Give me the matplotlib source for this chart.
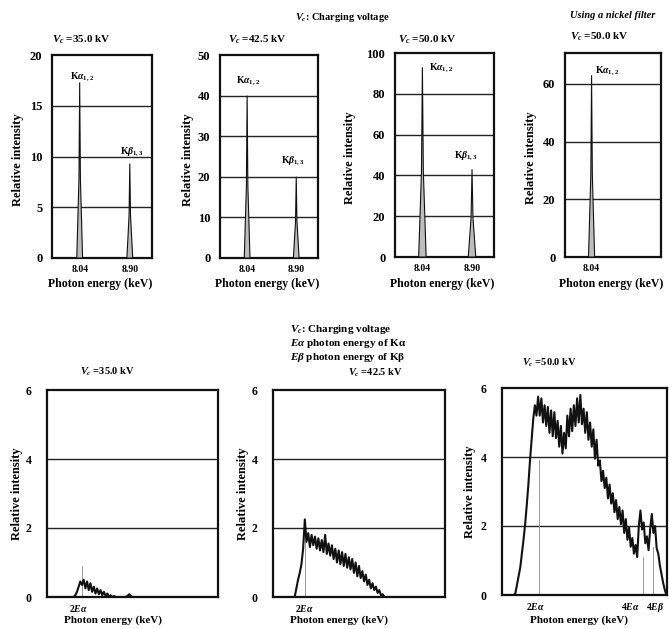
import numpy as np
import matplotlib
matplotlib.use("Agg")
import matplotlib.pyplot as plt

plt.rcParams['font.family'] = ['Liberation Serif', 'DejaVu Serif']
plt.rcParams['font.weight'] = 'bold'
plt.rcParams['mathtext.fontset'] = 'custom'
plt.rcParams['mathtext.rm'] = 'Liberation Serif:bold'
plt.rcParams['mathtext.it'] = 'Liberation Serif:italic:bold'
plt.rcParams['mathtext.bf'] = 'Liberation Serif:bold'

# ---------------- data: top row (characteristic lines) ----------------
top_titles = [r"$V_c$ =35.0 kV", r"$V_c$ =42.5 kV", r"$V_c$ =50.0 kV", r"$V_c$ =50.0 kV"]
top_ymax = [20, 50, 100, 70.7]
top_yticks = [[0, 5, 10, 15, 20], [0, 10, 20, 30, 40, 50],
              [0, 20, 40, 60, 80, 100], [0, 20, 40, 60]]
ka_energy = 8.04
kb_energy = 8.90
ka_heights = [17.3, 40.0, 93.0, 63.0]
kb_heights = [9.3, 20.0, 43.0, np.nan]
top_xticks = [[8.04, 8.90], [8.04, 8.90], [8.04, 8.90], [8.04]]
top_xticklabels = [["8.04", "8.90"], ["8.04", "8.90"], ["8.04", "8.90"], ["8.04"]]

# ---------------- data: bottom row (sum-peak continuum) ----------------
bot_titles = [r"$V_c$ =35.0 kV", r"$V_c$ =42.5 kV", r"$V_c$ =50.0 kV"]
bot_xlims = [(11.3, 36.7), (11.3, 36.7), (10.44, 35.84)]
bot_xticks = [[15.9], [15.9], [15.6, 30.15, 34.0]]
bot_xticklabels = [[r"$2E\alpha$"], [r"$2E\alpha$"],
                   [r"$2E\alpha$", r"$4E\alpha$", r"$4E\beta$"]]
bot_step = 0.25
# 35.0 kV spectrum (starts at 15.25 keV)
s35_start = 15.25
s35 = [0.0, 0.05, 0.15, 0.3, 0.45, 0.35, 0.5, 0.25, 0.45, 0.2, 0.4, 0.15, 0.3,
       0.1, 0.25, 0.08, 0.2, 0.05, 0.15, 0.03, 0.1, 0.02, 0.05, 0.0, 0.03, 0.0,
       0.0, 0.0, 0.0, 0.0, 0.0, 0.0, 0.03, 0.08, 0.03, 0.0]
# 42.5 kV spectrum (starts at 14.5 keV)
s42_start = 14.5
s42 = [0.0, 0.25, 0.5, 0.7, 0.95, 1.4, 2.25, 1.6, 1.85, 1.45, 1.8, 1.5, 1.75,
       1.4, 1.7, 1.35, 1.65, 1.3, 1.8, 1.25, 1.55, 1.2, 1.5, 1.1, 1.4, 1.0,
       1.35, 0.95, 1.3, 0.9, 1.25, 0.85, 1.15, 0.8, 1.1, 0.7, 1.0, 0.6, 0.9,
       0.55, 0.75, 0.45, 0.65, 0.35, 0.5, 0.25, 0.4, 0.2, 0.3, 0.12, 0.2,
       0.05, 0.08, 0.0, 0.0]
# 50.0 kV spectrum (starts at 12.25 keV)
s50_start = 12.25
s50 = [0.0, 0.05, 0.3, 0.55, 0.8, 1.2, 1.6, 2.05, 2.6, 3.2, 3.9, 4.5, 5.1, 5.5,
       5.2, 5.75, 5.2, 5.7, 5.0, 5.5, 4.9, 5.45, 4.7, 5.35, 4.6, 5.3, 4.55,
       5.05, 4.3, 4.9, 4.1, 4.7, 4.25, 5.2, 4.6, 5.4, 4.75, 5.5, 4.9, 5.7,
       5.0, 5.8, 4.95, 5.4, 4.7, 5.3, 4.5, 5.0, 4.3, 4.8, 3.95, 4.5, 3.75,
       3.9, 3.3, 3.6, 3.1, 3.4, 2.8, 3.2, 2.65, 2.95, 2.4, 2.75, 2.2, 2.55,
       2.05, 2.45, 1.8, 2.2, 1.6, 1.95, 1.4, 1.65, 1.2, 1.45, 1.1, 2.0, 2.45,
       1.9, 2.1, 1.5, 1.7, 1.3, 1.9, 2.35, 1.8, 2.0, 1.35, 1.2, 0.85, 0.6,
       0.35, 0.15, 0.0]
bot_spectra = [(s35_start, s35), (s42_start, s42), (s50_start, s50)]
# grey marker lines: (energy, height) per panel
bot_markers = [[(16.5, 0.9)], [(16.03, 1.8)],
               [(16.08, 3.9), (32.14, 1.1), (33.68, 1.4)]]

# ---------------- figure ----------------
W, H = 669, 629
fig = plt.figure(figsize=(W / 100, H / 100), dpi=100)


def add_ax(l, t, r, b):
    return fig.add_axes([l / W, 1 - b / H, (r - l) / W, (b - t) / H])


def ftext(x, y, s, **kw):
    kw.setdefault('fontsize', 7.5)
    kw.setdefault('va', 'center')
    fig.text(x / W, 1 - y / H, s, **kw)


def style_ax(ax, yt):
    for sp in ax.spines.values():
        sp.set_linewidth(1.6)
        sp.set_color('#111111')
    ax.tick_params(length=0)
    for t in yt[1:]:
        if t < ax.get_ylim()[1] - 1e-6:
            ax.axhline(t, color='#222222', lw=1.0, zorder=1)


top_boxes = [(52, 55, 152, 258), (220, 55, 318, 258), (395, 53, 494, 257), (565, 53, 661, 257)]
ka_off = [(2, 6), (1, 15.5), (19, 0), (16, 5)]
kb_off = [(2, 12), (-3, 16), (-6, 14), None]
peak_hw = [0.05, 0.05, 0.065, 0.055]
for i, box in enumerate(top_boxes):
    ax = add_ax(*box)
    ax.set_xlim(7.565, 9.281)
    ax.set_ylim(0, top_ymax[i])
    ax.set_yticks(top_yticks[i])
    ax.set_yticklabels([str(t) for t in top_yticks[i]], fontsize=9, fontweight='bold')
    ax.set_xticks(top_xticks[i])
    ax.set_xticklabels(top_xticklabels[i], fontsize=7, fontweight='bold')
    ax.tick_params(axis='y', pad=7)
    ax.tick_params(axis='x', pad=5)
    style_ax(ax, top_yticks[i])
    hw = peak_hw[i]
    for c, h, off, lab in [(ka_energy, ka_heights[i], ka_off[i], r"K$\alpha_{1,2}$"),
                           (kb_energy, kb_heights[i], kb_off[i], r"K$\beta_{1,3}$")]:
        if np.isnan(h):
            continue
        ax.fill([c - hw, c - hw * 0.25, c, c + hw * 0.25, c + hw],
                [0, h * 0.45, h, h * 0.45, 0],
                fc='#bdbdbd', ec='#111111', lw=0.8, zorder=3)
        ax.annotate(lab, (c, h), xytext=(off[0] * 0.72, off[1] * 0.72),
                    textcoords='offset points', ha='center', va='center',
                    fontsize=7)
    cx = (box[0] + box[2]) / 2
    ftext(cx - 2, 284, "Photon energy (keV)", ha='center', fontsize=8.5)

ylab_x_top = [18, 188, 350, 531]
for i, box in enumerate(top_boxes):
    ftext(ylab_x_top[i], (box[1] + box[3]) / 2 + 3, "Relative intensity",
          ha='center', rotation=90, fontsize=9)

ftext(52, 40, top_titles[0], ha='left', fontsize=8)
ftext(228, 40, top_titles[1], ha='left', fontsize=8)
ftext(398, 40, top_titles[2], ha='left', fontsize=8)
ftext(570, 37, top_titles[3], ha='left', fontsize=8)
ftext(570, 16, "Using a nickel filter", ha='left', style='italic', fontsize=7.5)
ftext(295, 17, r"$V_c$: Charging voltage", ha='left', fontsize=7.5)

# bottom row
bot_boxes = [(47, 390, 218, 597), (273, 390, 445, 597), (502, 388, 667, 595)]
bot_yticks = [0, 2, 4, 6]
for i, box in enumerate(bot_boxes):
    ax = add_ax(*box)
    ax.set_xlim(*bot_xlims[i])
    ax.set_ylim(0, 6)
    ax.set_yticks(bot_yticks)
    ax.set_yticklabels([str(t) for t in bot_yticks], fontsize=8.5, fontweight='bold')
    ax.set_xticks(bot_xticks[i])
    ax.set_xticklabels(bot_xticklabels[i], fontsize=7)
    ax.tick_params(axis='y', pad=11)
    ax.tick_params(axis='x', pad=4)
    style_ax(ax, bot_yticks)
    for e, h in bot_markers[i]:
        ax.plot([e, e], [0, h], color='#8a8a8a', lw=0.6, zorder=2)
    start, ys = bot_spectra[i]
    ys = np.asarray(ys)
    xs = start + bot_step * np.arange(len(ys))
    xs = np.concatenate([[bot_xlims[i][0]], xs, [bot_xlims[i][1]]])
    ys = np.concatenate([[0.0], ys, [0.0]])
    ax.plot(xs, ys, color='#111111', lw=1.5, zorder=3, clip_on=True)
    cx = (box[0] + box[2]) / 2
    ftext(cx - 20 if i < 2 else cx - 5, 620, "Photon energy (keV)", ha='center', fontsize=8)

ylab_x_bot = [17, 243, 470]
for i, box in enumerate(bot_boxes):
    ftext(ylab_x_bot[i], (box[1] + box[3]) / 2, "Relative intensity",
          ha='center', rotation=90, fontsize=9)

ftext(80, 372, bot_titles[0], ha='left')
ftext(348, 373, bot_titles[1], ha='left')
ftext(522, 363, bot_titles[2], ha='left')
ftext(290, 330, r"$V_c$: Charging voltage", ha='left', fontsize=8)
ftext(290, 344, r"$E\alpha$ photon energy of Kα", ha='left', fontsize=8)
ftext(290, 357, r"$E\beta$ photon energy of Kβ", ha='left', fontsize=8)

fig.savefig("out.png", dpi=100)
